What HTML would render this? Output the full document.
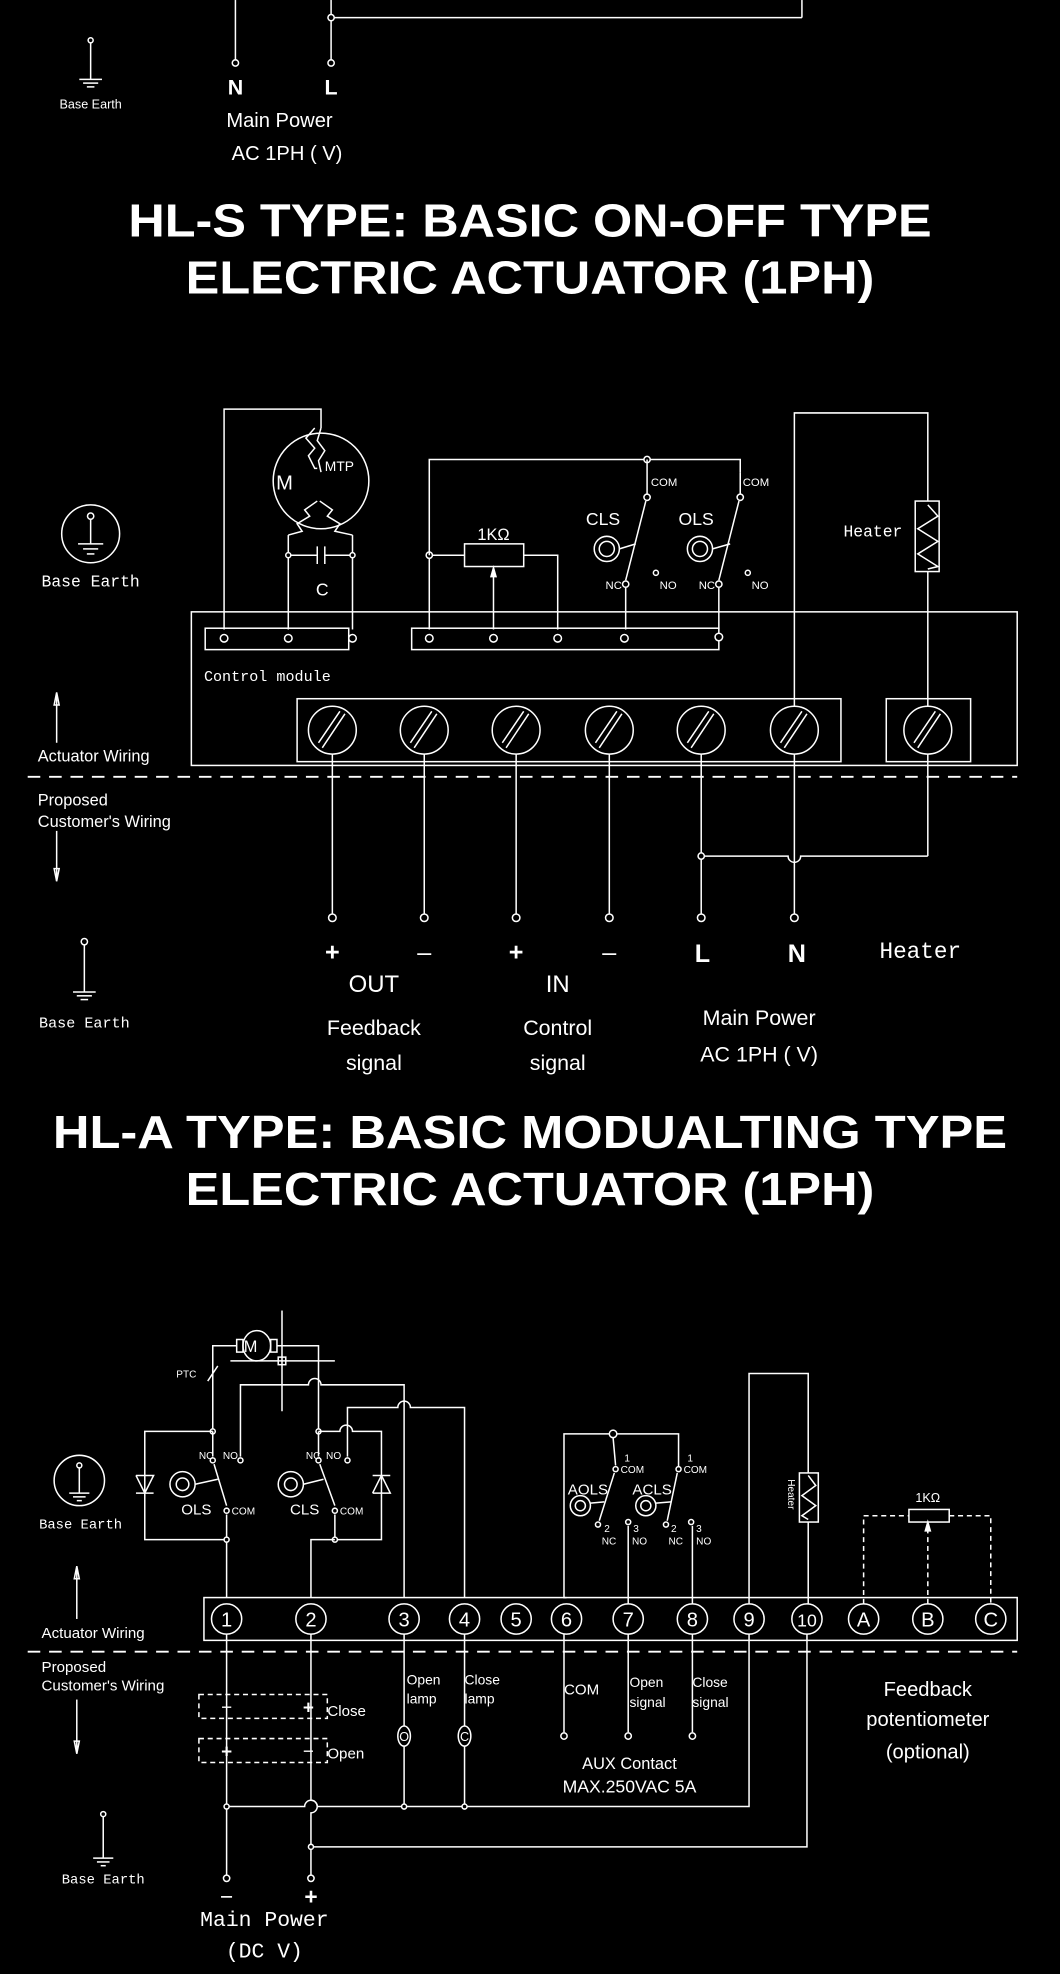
<!DOCTYPE html>
<html><head><meta charset="utf-8"><style>
html,body{margin:0;padding:0;background:#000;}
svg{display:block;}
text{fill:#fff;font-family:"Liberation Sans Narrow","Liberation Sans",sans-serif;}
.t{font-family:"Liberation Sans",sans-serif;font-weight:bold;font-size:37px;}
.m{font-family:"Liberation Mono","DejaVu Sans Mono",monospace;}
</style></head><body>
<svg width="1060" height="1974" viewBox="0 0 842 1568" xmlns="http://www.w3.org/2000/svg">
<rect width="842" height="1568" fill="#000"/>
<g stroke="#fff" stroke-width="1.2" fill="none">
<!-- top section -->
<line x1="187" y1="0" x2="187" y2="48"/>
<line x1="263" y1="0" x2="263" y2="48"/>
<line x1="263" y1="14" x2="637" y2="14"/>
<line x1="637" y1="0" x2="637" y2="14"/>
<circle cx="263" cy="14" r="2.5" fill="#000"/>
<circle cx="187" cy="50" r="2.5" fill="#000"/>
<circle cx="263" cy="50" r="2.5" fill="#000"/>
<line x1="72" y1="33" x2="72" y2="63"/>
<circle cx="72" cy="32" r="2" fill="#000"/>
<line x1="63" y1="63" x2="81" y2="63"/><line x1="66" y1="66" x2="78" y2="66"/><line x1="69" y1="69" x2="75" y2="69"/>

<!-- HL-S section -->
<rect x="152" y="486" width="656" height="122"/>
<rect x="163" y="499" width="114" height="17"/>
<rect x="327" y="499" width="244" height="17"/>
<g fill="#000">
<circle cx="178" cy="507" r="3"/><circle cx="229" cy="507" r="3"/><circle cx="280" cy="507" r="3"/>
<circle cx="341" cy="507" r="3"/><circle cx="392" cy="507" r="3"/><circle cx="443" cy="507" r="3"/><circle cx="496" cy="507" r="3"/><circle cx="571" cy="506" r="3"/>
</g>
<rect x="236" y="555" width="432" height="50"/>
<rect x="704" y="555" width="67" height="50"/>
<g>
<circle cx="264" cy="580" r="19"/><line x1="256" y1="594" x2="274" y2="567"/><line x1="253" y1="590" x2="270" y2="565"/>
<circle cx="337" cy="580" r="19"/><line x1="329" y1="594" x2="347" y2="567"/><line x1="326" y1="590" x2="343" y2="565"/>
<circle cx="410" cy="580" r="19"/><line x1="402" y1="594" x2="420" y2="567"/><line x1="399" y1="590" x2="416" y2="565"/>
<circle cx="484" cy="580" r="19"/><line x1="476" y1="594" x2="494" y2="567"/><line x1="473" y1="590" x2="490" y2="565"/>
<circle cx="557" cy="580" r="19"/><line x1="549" y1="594" x2="567" y2="567"/><line x1="546" y1="590" x2="563" y2="565"/>
<circle cx="631" cy="580" r="19"/><line x1="623" y1="594" x2="641" y2="567"/><line x1="620" y1="590" x2="637" y2="565"/>
<circle cx="737" cy="580" r="19"/><line x1="729" y1="594" x2="747" y2="567"/><line x1="726" y1="590" x2="743" y2="565"/>
</g>
<line x1="22" y1="617" x2="808" y2="617" stroke-dasharray="10,7" stroke-width="1.5"/>
<!-- motor -->
<polyline points="178,500 178,325 255,325 255,340"/>
<circle cx="255" cy="382" r="38"/>
<polyline points="250,340 243,348 250,356 245,362 250,372 252,372"/>
<polyline points="255,340 252,350 258,358 253,366 255,375"/>
<polyline points="252,398 242,405 246,410 236,416 240,422 229,425"/>
<polyline points="254,398 264,405 260,410 270,416 266,422 280,425"/>
<line x1="229" y1="425" x2="229" y2="500"/><line x1="280" y1="425" x2="280" y2="500"/>
<line x1="229" y1="441" x2="252" y2="441"/><line x1="258" y1="441" x2="280" y2="441"/>
<line x1="252" y1="434" x2="252" y2="448"/><line x1="258" y1="434" x2="258" y2="448"/>
<circle cx="229" cy="441" r="2" fill="#000"/><circle cx="280" cy="441" r="2" fill="#000"/>
<!-- pot + switches -->
<polyline points="341,500 341,441"/>
<polyline points="341,441 369,441"/><rect x="369" y="432" width="47" height="18"/>
<polyline points="416,441 443,441 443,500"/>
<line x1="392" y1="500" x2="392" y2="455"/><polygon points="390,458 394,458 392,451" fill="#fff"/>
<circle cx="341" cy="441" r="2.5" fill="#000"/>
<polyline points="341,441 341,365 588,365 588,375"/>
<circle cx="514" cy="365" r="2.5" fill="#000"/>
<line x1="514" y1="365" x2="514" y2="392"/><circle cx="514" cy="395" r="2.5" fill="#000"/>
<line x1="513" y1="398" x2="497" y2="461"/>
<circle cx="497" cy="464" r="2.5" fill="#000"/><line x1="497" y1="467" x2="497" y2="500"/>
<circle cx="521" cy="455" r="2" fill="#000"/>
<circle cx="482" cy="436" r="10"/><circle cx="482" cy="436" r="6"/><line x1="492" y1="436" x2="505" y2="432"/>
<line x1="588" y1="375" x2="588" y2="392"/><circle cx="588" cy="395" r="2.5" fill="#000"/>
<line x1="587" y1="398" x2="571" y2="461"/>
<circle cx="571" cy="464" r="2.5" fill="#000"/><line x1="571" y1="467" x2="571" y2="500"/>
<circle cx="594" cy="455" r="2" fill="#000"/>
<circle cx="556" cy="436" r="10"/><circle cx="556" cy="436" r="6"/><line x1="566" y1="436" x2="580" y2="432"/>
<!-- heater -->
<polyline points="631,561 631,328 737,328 737,398"/>
<rect x="727" y="398" width="19" height="56"/>
<polyline points="737,401 745,410 729,420 745,430 729,440 745,450 737,452"/>
<line x1="737" y1="454" x2="737" y2="561"/>
<!-- wires down -->
<line x1="264" y1="599" x2="264" y2="726"/>
<line x1="337" y1="599" x2="337" y2="726"/>
<line x1="410" y1="599" x2="410" y2="726"/>
<line x1="484" y1="599" x2="484" y2="726"/>
<line x1="557" y1="599" x2="557" y2="726"/>
<line x1="631" y1="599" x2="631" y2="726"/>
<line x1="737" y1="599" x2="737" y2="680"/>
<path d="M557,680 L626,680 A5,5 0 0 0 636,680 L737,680"/>
<circle cx="557" cy="680" r="2.5" fill="#000"/>
<g fill="#000"><circle cx="264" cy="729" r="3"/><circle cx="337" cy="729" r="3"/><circle cx="410" cy="729" r="3"/><circle cx="484" cy="729" r="3"/><circle cx="557" cy="729" r="3"/><circle cx="631" cy="729" r="3"/></g>
<!-- left earths -->
<circle cx="72" cy="424" r="23"/><line x1="72" y1="412" x2="72" y2="432"/><circle cx="72" cy="410" r="2.5" fill="#000"/>
<line x1="62" y1="432" x2="82" y2="432"/><line x1="66" y1="436" x2="78" y2="436"/><line x1="69" y1="440" x2="75" y2="440"/>
<line x1="45" y1="552" x2="45" y2="590"/><polygon points="43,560 47,560 45,550"/>
<line x1="45" y1="660" x2="45" y2="700"/><polygon points="43,690 47,690 45,700"/>
<line x1="67" y1="750" x2="67" y2="788"/><circle cx="67" cy="748" r="2.5" fill="#000"/>
<line x1="58" y1="788" x2="76" y2="788"/><line x1="61" y1="791" x2="73" y2="791"/><line x1="64" y1="794" x2="70" y2="794"/>

<!-- HL-A section -->
<rect x="162" y="1269" width="646" height="34"/>
<line x1="22" y1="1312" x2="808" y2="1312" stroke-dasharray="10,7" stroke-width="1.5"/>
<g>
<circle cx="180" cy="1286" r="12"/><circle cx="247" cy="1286" r="12"/><circle cx="321" cy="1286" r="12"/><circle cx="369" cy="1286" r="12"/><circle cx="410" cy="1286" r="12"/><circle cx="450" cy="1286" r="12"/><circle cx="499" cy="1286" r="12"/><circle cx="550" cy="1286" r="12"/><circle cx="595" cy="1286" r="12"/><circle cx="641" cy="1286" r="12"/><circle cx="686" cy="1286" r="12"/><circle cx="737" cy="1286" r="12"/><circle cx="787" cy="1286" r="12"/>
</g>
<!-- motor -->
<line x1="224" y1="1041" x2="224" y2="1121"/>
<line x1="183" y1="1081" x2="266" y2="1081"/>
<ellipse cx="204" cy="1069" rx="11" ry="12"/>
<rect x="188" y="1064" width="5" height="10"/><rect x="215" y="1064" width="5" height="10"/>
<rect x="221" y="1078" width="6" height="6"/>
<polyline points="188,1069 169,1069 169,1135"/>
<line x1="165" y1="1097" x2="173" y2="1085"/>
<polyline points="220,1069 253,1069 253,1135"/>
<circle cx="169" cy="1137" r="2" fill="#000"/><circle cx="253" cy="1137" r="2" fill="#000"/>
<!-- OLS box -->
<polyline points="169,1137 115,1137 115,1223 180,1223"/>
<polyline points="108,1172 122,1172 115,1186 108,1172"/><line x1="108" y1="1186" x2="122" y2="1186"/>
<line x1="169" y1="1137" x2="169" y2="1157"/><circle cx="169" cy="1160" r="2" fill="#000"/>
<line x1="170" y1="1163" x2="180" y2="1196"/><circle cx="180" cy="1200" r="2" fill="#000"/>
<line x1="180" y1="1203" x2="180" y2="1269"/><circle cx="180" cy="1223" r="2" fill="#000"/>
<circle cx="145" cy="1179" r="10"/><circle cx="145" cy="1179" r="5"/><line x1="155" y1="1179" x2="173" y2="1175"/>
<circle cx="191" cy="1160" r="2" fill="#000"/>
<path d="M191,1157 L191,1100 L245,1100 A5,5 0 0 1 255,1100 L321,1100 L321,1269"/>
<!-- CLS box -->
<path d="M253,1137 L270,1137 A5,5 0 0 1 280,1137 L303,1137 L303,1223 L266,1223"/>
<polyline points="296,1186 310,1186 303,1172 296,1186"/><line x1="296" y1="1172" x2="310" y2="1172"/>
<line x1="253" y1="1137" x2="253" y2="1157"/><circle cx="253" cy="1160" r="2" fill="#000"/>
<line x1="254" y1="1163" x2="266" y2="1196"/><circle cx="266" cy="1200" r="2" fill="#000"/>
<line x1="266" y1="1203" x2="266" y2="1223"/><circle cx="266" cy="1223" r="2" fill="#000"/>
<polyline points="266,1223 247,1223 247,1269"/>
<circle cx="231" cy="1179" r="10"/><circle cx="231" cy="1179" r="5"/><line x1="241" y1="1179" x2="257" y2="1175"/>
<circle cx="276" cy="1160" r="2" fill="#000"/>
<path d="M276,1157 L276,1118 L316,1118 A5,5 0 0 1 326,1118 L369,1118 L369,1269"/>
<!-- AOLS/ACLS -->
<polyline points="450,1269 448,1269 448,1139 539,1139 539,1165"/>
<circle cx="487" cy="1139" r="3" fill="#000"/>
<line x1="487" y1="1142" x2="489" y2="1164"/><circle cx="489" cy="1167" r="2" fill="#000"/>
<line x1="488" y1="1170" x2="476" y2="1208"/><circle cx="475" cy="1211" r="2" fill="#000"/>
<circle cx="499" cy="1209" r="2" fill="#000"/><line x1="499" y1="1212" x2="499" y2="1274"/>
<circle cx="539" cy="1167" r="2" fill="#000"/>
<line x1="538" y1="1170" x2="530" y2="1208"/><circle cx="529" cy="1211" r="2" fill="#000"/>
<circle cx="549" cy="1209" r="2" fill="#000"/><line x1="550" y1="1212" x2="550" y2="1274"/>
<circle cx="461" cy="1196" r="8"/><circle cx="461" cy="1196" r="4"/><line x1="469" y1="1194" x2="480" y2="1193"/>
<circle cx="513" cy="1196" r="8"/><circle cx="513" cy="1196" r="4"/><line x1="521" y1="1194" x2="533" y2="1193"/>
<!-- heater -->
<polyline points="595,1274 595,1091 642,1091 642,1170"/>
<rect x="635" y="1170" width="15" height="39"/>
<polyline points="642,1172 648,1180 637,1188 648,1196 637,1204 642,1207"/>
<line x1="642" y1="1209" x2="642" y2="1274"/>
<!-- feedback pot -->
<g stroke-dasharray="4,3"><polyline points="686,1274 686,1204 722,1204"/><polyline points="754,1204 787,1204 787,1274"/><line x1="737" y1="1274" x2="737" y2="1215"/></g>
<rect x="722" y="1199" width="32" height="10"/>
<polygon points="735,1216 739,1216 737,1209" fill="#fff"/>
<!-- below -->
<line x1="180" y1="1298" x2="180" y2="1489"/>
<path d="M247,1298 L247,1430 A5,5 0 0 1 247,1440 L247,1489"/>
<g stroke-dasharray="4,3"><rect x="158" y="1346" width="102" height="19"/><rect x="158" y="1381" width="102" height="19"/></g>
<line x1="321" y1="1298" x2="321" y2="1371"/><line x1="321" y1="1387" x2="321" y2="1435"/>
<line x1="369" y1="1298" x2="369" y2="1371"/><line x1="369" y1="1387" x2="369" y2="1435"/>
<ellipse cx="321" cy="1379" rx="5" ry="8"/><ellipse cx="369" cy="1379" rx="5" ry="8"/>
<path d="M180,1435 L242,1435 A5,5 0 0 1 252,1435 L595,1435 L595,1298"/>
<polyline points="247,1467 641,1467 641,1298"/>
<g fill="#000"><circle cx="180" cy="1435" r="2"/><circle cx="321" cy="1435" r="2"/><circle cx="369" cy="1435" r="2"/><circle cx="247" cy="1467" r="2"/><circle cx="180" cy="1492" r="2.5"/><circle cx="247" cy="1492" r="2.5"/></g>
<line x1="448" y1="1298" x2="448" y2="1376"/><circle cx="448" cy="1379" r="2.5" fill="#000"/>
<line x1="499" y1="1298" x2="499" y2="1376"/><circle cx="499" cy="1379" r="2.5" fill="#000"/>
<line x1="550" y1="1298" x2="550" y2="1376"/><circle cx="550" cy="1379" r="2.5" fill="#000"/>
<!-- left -->
<circle cx="63" cy="1176" r="20"/><line x1="63" y1="1166" x2="63" y2="1186"/><circle cx="63" cy="1164" r="2" fill="#000"/>
<line x1="55" y1="1186" x2="71" y2="1186"/><line x1="58" y1="1189" x2="68" y2="1189"/><line x1="61" y1="1192" x2="65" y2="1192"/>
<line x1="61" y1="1246" x2="61" y2="1286"/><polygon points="59,1254 63,1254 61,1244"/>
<line x1="61" y1="1350" x2="61" y2="1393"/><polygon points="59,1383 63,1383 61,1393"/>
<line x1="82" y1="1443" x2="82" y2="1476"/><circle cx="82" cy="1441" r="2" fill="#000"/>
<line x1="74" y1="1476" x2="90" y2="1476"/><line x1="77" y1="1479" x2="87" y2="1479"/><line x1="80" y1="1482" x2="84" y2="1482"/>
</g>

<!-- TEXT -->
<g class="m">
<text x="72" y="86" font-size="10" text-anchor="middle">Base Earth</text>
<text x="187" y="75" font-size="17" text-anchor="middle" font-weight="bold">N</text>
<text x="263" y="75" font-size="17" text-anchor="middle" font-weight="bold">L</text>
<text x="222" y="101" font-size="16" text-anchor="middle">Main Power</text>
<text x="228" y="127" font-size="16" text-anchor="middle">AC 1PH (  V)</text>
</g>
<text class="t" x="421" y="188" text-anchor="middle" textLength="638" lengthAdjust="spacingAndGlyphs">HL-S TYPE: BASIC ON-OFF TYPE</text>
<text class="t" x="421" y="233" text-anchor="middle" textLength="547" lengthAdjust="spacingAndGlyphs">ELECTRIC ACTUATOR (1PH)</text>

<g font-size="12">
<text x="226" y="389" font-size="16" text-anchor="middle">M</text>
<text x="258" y="374" font-size="11">MTP</text>
<text x="256" y="473" font-size="14" text-anchor="middle">C</text>
<text x="392" y="429" font-size="13" text-anchor="middle">1KΩ</text>
<text x="479" y="417" font-size="14" text-anchor="middle">CLS</text>
<text x="553" y="417" font-size="14" text-anchor="middle">OLS</text>
<text x="517" y="386" font-size="9">COM</text>
<text x="590" y="386" font-size="9">COM</text>
<text x="481" y="468" font-size="9">NC</text><text x="524" y="468" font-size="9">NO</text>
<text x="555" y="468" font-size="9">NC</text><text x="597" y="468" font-size="9">NO</text>
<text x="670" y="426" class="m" font-size="13">Heater</text>
<text x="72" y="466" class="m" font-size="13" text-anchor="middle">Base Earth</text>
<text x="162" y="541" class="m" font-size="12">Control module</text>
<text x="30" y="605" font-size="13">Actuator Wiring</text>
<text x="30" y="640" font-size="13">Proposed</text>
<text x="30" y="657" font-size="13">Customer's Wiring</text>
<text x="67" y="816" class="m" font-size="12" text-anchor="middle">Base Earth</text>
</g>
<g font-size="20" text-anchor="middle">
<text x="264" y="763" font-weight="bold">+</text><text x="337" y="763">–</text>
<text x="410" y="763" font-weight="bold">+</text><text x="484" y="763">–</text>
<text x="558" y="764" font-weight="bold">L</text><text x="633" y="764" font-weight="bold">N</text>
<text x="731" y="761" class="m" font-size="18">Heater</text>
<text x="297" y="788" font-size="19">OUT</text>
<text x="443" y="788" font-size="19">IN</text>
<g class="m" font-size="17">
<text x="297" y="822">Feedback</text><text x="297" y="850">signal</text>
<text x="443" y="822">Control</text><text x="443" y="850">signal</text>
<text x="603" y="814">Main Power</text><text x="603" y="843">AC 1PH (  V)</text>
</g>
</g>

<text class="t" x="421" y="912" text-anchor="middle" textLength="758" lengthAdjust="spacingAndGlyphs">HL-A TYPE: BASIC MODUALTING TYPE</text>
<text class="t" x="421" y="957" text-anchor="middle" textLength="547" lengthAdjust="spacingAndGlyphs">ELECTRIC ACTUATOR (1PH)</text>

<g font-size="16" text-anchor="middle">
<text x="180" y="1292">1</text><text x="247" y="1292">2</text><text x="321" y="1292">3</text><text x="369" y="1292">4</text><text x="410" y="1292">5</text><text x="450" y="1292">6</text><text x="499" y="1292">7</text><text x="550" y="1292">8</text><text x="595" y="1292">9</text><text x="641" y="1292" font-size="14">10</text><text x="686" y="1292">A</text><text x="737" y="1292">B</text><text x="787" y="1292">C</text>
</g>
<g font-size="8">
<text x="140" y="1094">PTC</text>
<text x="199" y="1074" font-size="13" text-anchor="middle">M</text>
<text x="158" y="1159">NC</text><text x="177" y="1159">NO</text>
<text x="243" y="1159">NC</text><text x="259" y="1159">NO</text>
<text x="184" y="1203">COM</text><text x="270" y="1203">COM</text>
<text x="156" y="1203" font-size="12" text-anchor="middle">OLS</text>
<text x="242" y="1203" font-size="12" text-anchor="middle">CLS</text>
<text x="467" y="1187" font-size="12" text-anchor="middle">AOLS</text>
<text x="518" y="1187" font-size="12" text-anchor="middle">ACLS</text>
<text x="496" y="1161">1</text><text x="493" y="1170">COM</text>
<text x="546" y="1161">1</text><text x="543" y="1170">COM</text>
<text x="480" y="1217">2</text><text x="478" y="1227">NC</text>
<text x="503" y="1217">3</text><text x="502" y="1227">NO</text>
<text x="533" y="1217">2</text><text x="531" y="1227">NC</text>
<text x="553" y="1217">3</text><text x="553" y="1227">NO</text>
<text x="626" y="1175" transform="rotate(90 626 1175)">Heater</text>
<text x="737" y="1193" font-size="10" text-anchor="middle">1KΩ</text>
</g>
<g font-size="12">
<text x="64" y="1214" class="m" font-size="11" text-anchor="middle">Base Earth</text>
<text x="33" y="1301">Actuator Wiring</text>
<text x="33" y="1328">Proposed</text>
<text x="33" y="1343">Customer's Wiring</text>
<text x="82" y="1496" class="m" font-size="11" text-anchor="middle">Base Earth</text>
</g>
<g class="m" font-size="11">
<text x="323" y="1338">Open</text><text x="323" y="1353">lamp</text>
<text x="369" y="1338">Close</text><text x="369" y="1353">lamp</text>
<text x="500" y="1340">Open</text><text x="500" y="1356">signal</text>
<text x="550" y="1340">Close</text><text x="550" y="1356">signal</text>
<text x="260" y="1363" font-size="12">Close</text>
<text x="260" y="1397" font-size="12">Open</text>
</g>
<g text-anchor="middle">
<text x="462" y="1346" font-size="12">COM</text>
<text x="180" y="1361" font-size="15">−</text><text x="245" y="1361" font-size="15" font-weight="bold">+</text>
<text x="180" y="1396" font-size="15" font-weight="bold">+</text><text x="245" y="1396" font-size="15">−</text>
<text x="321" y="1383" font-size="10">O</text><text x="369" y="1383" font-size="10">C</text>
<text x="500" y="1405" font-size="13">AUX Contact</text>
<text x="500" y="1424" font-size="14">MAX.250VAC  5A</text>
<g class="m" font-size="16"><text x="737" y="1347">Feedback</text><text x="737" y="1371">potentiometer</text><text x="737" y="1397">(optional)</text></g>
<text x="180" y="1513" font-size="18">−</text><text x="247" y="1513" font-size="18" font-weight="bold">+</text>
<text x="210" y="1530" class="m" font-size="17">Main Power</text>
<text x="210" y="1555" class="m" font-size="17">(DC  V)</text>
</g>
</svg>
</body></html>
